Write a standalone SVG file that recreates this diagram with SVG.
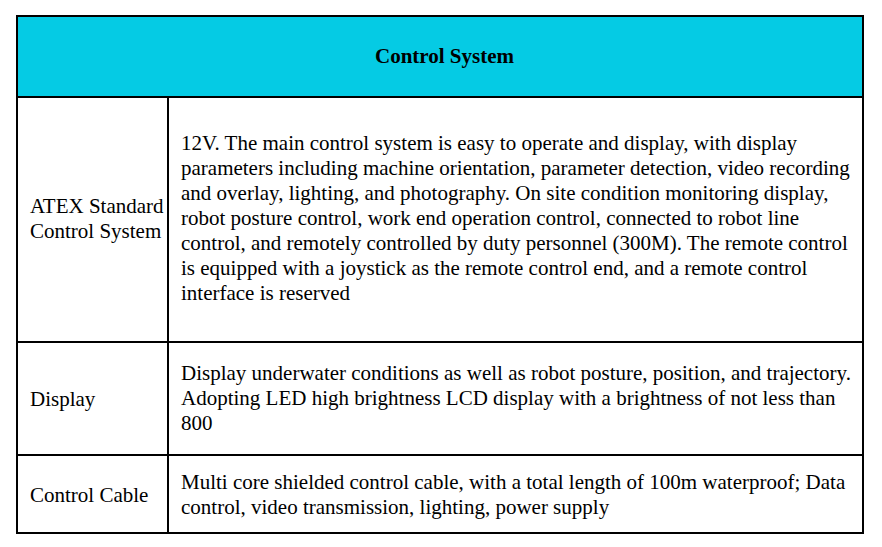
<svg xmlns="http://www.w3.org/2000/svg" width="882" height="547" viewBox="0 0 882 547">
<style>
text{font-family:'Liberation Serif','Times New Roman',Times,serif;font-size:21px;fill:#000}
.h{font-weight:bold}
.ln{stroke:#000;stroke-width:2;fill:none}
</style>
<rect x="0" y="0" width="882" height="547" fill="#fff"/>
<g id="header">
<rect x="17" y="16" width="846" height="81" fill="#05CBE4"/>
<text class="h" x="444.5" y="63" text-anchor="middle">Control System</text>
</g>
<g id="row-atex">
<text x="30" y="213">ATEX Standard</text>
<text x="30" y="238">Control System</text>
<text x="181" y="149.5">12V. The main control system is easy to operate and display, with display</text>
<text x="181" y="174.5">parameters including machine orientation, parameter detection, video recording</text>
<text x="181" y="199.5">and overlay, lighting, and photography. On site condition monitoring display,</text>
<text x="181" y="224.5">robot posture control, work end operation control, connected to robot line</text>
<text x="181" y="249.5">control, and remotely controlled by duty personnel (300M). The remote control</text>
<text x="181" y="274.5">is equipped with a joystick as the remote control end, and a remote control</text>
<text x="181" y="299.5">interface is reserved</text>
</g>
<g id="row-display">
<text x="30" y="406">Display</text>
<text x="181" y="379.5">Display underwater conditions as well as robot posture, position, and trajectory.</text>
<text x="181" y="404.5">Adopting LED high brightness LCD display with a brightness of not less than</text>
<text x="181" y="429.5">800</text>
</g>
<g id="row-cable">
<text x="30" y="502">Control Cable</text>
<text x="181" y="488.5">Multi core shielded control cable, with a total length of 100m waterproof; Data</text>
<text x="181" y="513.5">control, video transmission, lighting, power supply</text>
</g>
<g id="grid">
<rect class="ln" x="17" y="16" width="846" height="517"/>
<line class="ln" x1="17" y1="97" x2="863" y2="97"/>
<line class="ln" x1="17" y1="342" x2="863" y2="342"/>
<line class="ln" x1="17" y1="455" x2="863" y2="455"/>
<line class="ln" x1="168" y1="97" x2="168" y2="533"/>
</g>
</svg>
